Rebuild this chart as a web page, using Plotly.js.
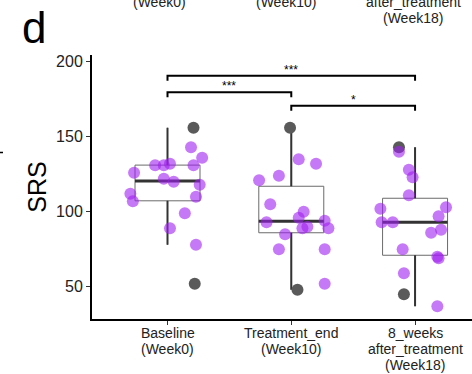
<!DOCTYPE html>
<html>
<head>
<meta charset="utf-8">
<script src="https://cdn.plot.ly/plotly-3.0.1.min.js"></script>
<style>
  html, body { margin: 0; padding: 0; background: #fff; overflow: hidden; }
  #chart { width: 472px; height: 374px; }
</style>
</head>
<body>
<div id="chart"></div>
<script>
// Time points (x categories) and their axis labels
const categories = [0, 1, 2];
const tickLabels = ['Baseline<br>(Week0)', 'Treatment_end<br>(Week10)', '8_weeks<br>after_treatment<br>(Week18)'];

// Individual SRS scores per time point (purple) and horizontal jitter offsets
const baselineSRS    = [143, 136, 131, 131, 132, 131, 126, 122, 120, 118, 112, 107, 110, 99, 89, 78];
const baselineJitter = [0.19, 0.28, -0.10, -0.03, 0.02, 0.21, -0.27, -0.03, 0.05, 0.26, -0.30, -0.28, 0.23, 0.14, 0.02, 0.23];
const treatEndSRS    = [135, 132, 124, 121, 105, 100, 96, 93, 94, 90, 89, 89, 85, 75, 75, 52];
const treatEndJitter = [0.06, 0.20, -0.10, -0.26, -0.17, 0.10, 0.06, -0.20, 0.27, 0.13, 0.09, 0.30, -0.05, -0.10, 0.27, 0.27];
const week18SRS      = [140, 128, 123, 111, 103, 102, 97, 93, 93, 86, 88, 75, 70, 69, 59, 37];
const week18Jitter   = [-0.13, -0.05, -0.02, -0.05, 0.25, -0.28, 0.19, -0.27, -0.18, 0.13, 0.21, -0.10, 0.18, 0.19, -0.09, 0.18];

// Highlighted (grey) subjects per time point
const greySRS    = [[156, 52], [156, 48], [143, 45]];
const greyJitter = [[0.21, 0.22], [-0.01, 0.05], [-0.13, -0.09]];

// Box summary statistics per time point
const boxLower  = [78, 48, 37];
const boxQ1     = [107.3, 86, 71];
const boxMedian = [120.5, 93.6, 93];
const boxQ3     = [131.1, 117, 109];
const boxUpper  = [156, 156, 143];

// Significance brackets
const bracketFrom   = [0, 0, 1];
const bracketTo     = [2, 1, 2];
const bracketY      = [190.7, 179.6, 170.7];
const bracketLabels = ['***', '***', '*'];

const BOX_W = 0.525;
const TICK_DROP = 3.3;
const FONT = 'Liberation Sans, Arial, Helvetica, sans-serif';
const LABEL_COLOR = '#222';

const W = 472, H = 374, M = {l: 92, r: 0, t: 55, b: 55};
const px2x = p => (p - M.l) / (W - M.l - M.r);
const py2y = p => (H - M.b - p) / (H - M.t - M.b);

const traces = [];

// Boxes (thin outline)
traces.push({
  type: 'box',
  x: categories,
  q1: boxQ1, median: boxMedian, q3: boxQ3,
  lowerfence: boxLower, upperfence: boxUpper,
  width: BOX_W,
  boxpoints: false,
  whiskerwidth: 0,
  fillcolor: 'rgba(255,255,255,0)',
  line: {color: '#6b6b6b', width: 1},
  hoverinfo: 'skip',
  showlegend: false
});

// Whiskers and medians drawn heavier on top of the outline
categories.forEach((c, i) => {
  [[boxQ3[i], boxUpper[i]], [boxLower[i], boxQ1[i]]].forEach(seg => {
    traces.push({
      type: 'scatter', mode: 'lines',
      x: [c, c], y: seg,
      line: {color: '#333333', width: 2},
      hoverinfo: 'skip', showlegend: false
    });
  });
  traces.push({
    type: 'scatter', mode: 'lines',
    x: [c - BOX_W / 2, c + BOX_W / 2], y: [boxMedian[i], boxMedian[i]],
    line: {color: '#333333', width: 3},
    hoverinfo: 'skip', showlegend: false
  });
});

// Grey subjects
const gx = [], gy = [];
categories.forEach((c, i) => {
  greySRS[i].forEach((v, j) => { gx.push(c + greyJitter[i][j]); gy.push(v); });
});
traces.push({
  type: 'scatter', mode: 'markers',
  x: gx, y: gy,
  marker: {size: 12, color: '#5a5a5a', line: {width: 0}},
  hoverinfo: 'skip', showlegend: false
});

// Purple jittered subjects
const groups = [[baselineSRS, baselineJitter], [treatEndSRS, treatEndJitter], [week18SRS, week18Jitter]];
const px = [], pyv = [];
groups.forEach(([vals, jit], i) => {
  vals.forEach((v, j) => { px.push(categories[i] + jit[j]); pyv.push(v); });
});
traces.push({
  type: 'scatter', mode: 'markers',
  x: px, y: pyv,
  marker: {size: 12, color: 'rgba(160,32,240,0.6)', line: {width: 0}},
  hoverinfo: 'skip', showlegend: false
});

// Significance brackets
const annotations = [];
bracketFrom.forEach((a, i) => {
  const b = bracketTo[i], y = bracketY[i];
  traces.push({
    type: 'scatter', mode: 'lines',
    x: [a, a, b, b], y: [y - TICK_DROP, y, y, y - TICK_DROP],
    line: {color: '#000', width: 2},
    hoverinfo: 'skip', showlegend: false
  });
  annotations.push({
    x: (a + b) / 2, y: y, xref: 'x', yref: 'y',
    text: bracketLabels[i], showarrow: false,
    yanchor: 'bottom', yshift: -3,
    font: {family: FONT, size: 12, color: '#000'}
  });
});

// Category labels under the x axis, one line each with tight line spacing
const LINE_STEP = 16, FIRST_LINE = 332.5;
tickLabels.forEach((lbl, i) => {
  lbl.split('<br>').forEach((line, k) => {
    annotations.push({
      xref: 'x', yref: 'paper', x: categories[i], y: py2y(FIRST_LINE + k * LINE_STEP),
      text: line, showarrow: false, xanchor: 'center', yanchor: 'middle',
      font: {family: FONT, size: 14, color: LABEL_COLOR}
    });
  });
});

// Panel letter
annotations.push({
  xref: 'paper', yref: 'paper', x: px2x(34), y: py2y(27),
  text: 'd', showarrow: false, xanchor: 'center', yanchor: 'middle',
  font: {family: FONT, size: 44, color: '#000'}
});

// Axis labels of the panel above, cut off at the top edge
[['(Week0)', 159, 2], ['(Week10)', 286, 2], ['after_treatment', 413, 2], ['(Week18)', 413, 18]].forEach(([t, x, y]) => {
  annotations.push({
    xref: 'paper', yref: 'paper', x: px2x(x), y: py2y(y),
    text: t, showarrow: false, xanchor: 'center', yanchor: 'middle',
    font: {family: FONT, size: 14, color: LABEL_COLOR}
  });
});

const layout = {
  width: W, height: H,
  margin: M,
  paper_bgcolor: '#fff', plot_bgcolor: '#fff',
  showlegend: false,
  xaxis: {
    range: [-0.61, 2.46],
    tickvals: categories, showticklabels: false,
    showgrid: false, zeroline: false,
    showline: true, linecolor: '#000', linewidth: 2,
    ticks: 'outside', ticklen: 4, tickcolor: '#333', tickwidth: 1
  },
  yaxis: {
    range: [28.5, 204.5],
    tickvals: [50, 100, 150, 200],
    showgrid: false, zeroline: false,
    showline: true, linecolor: '#000', linewidth: 2,
    ticks: 'outside', ticklen: 4, tickcolor: '#333', tickwidth: 1,
    tickfont: {family: FONT, size: 16, color: LABEL_COLOR},
    title: {text: 'SRS', font: {family: FONT, size: 25, color: '#000'}, standoff: 2}
  },
  annotations: annotations,
  shapes: [{
    type: 'line', xref: 'paper', yref: 'paper',
    x0: px2x(0), x1: px2x(3), y0: py2y(152.5), y1: py2y(152.5),
    line: {color: '#000', width: 1.5}
  }]
};

Plotly.newPlot('chart', traces, layout, {displayModeBar: false, staticPlot: true});
</script>
</body>
</html>
